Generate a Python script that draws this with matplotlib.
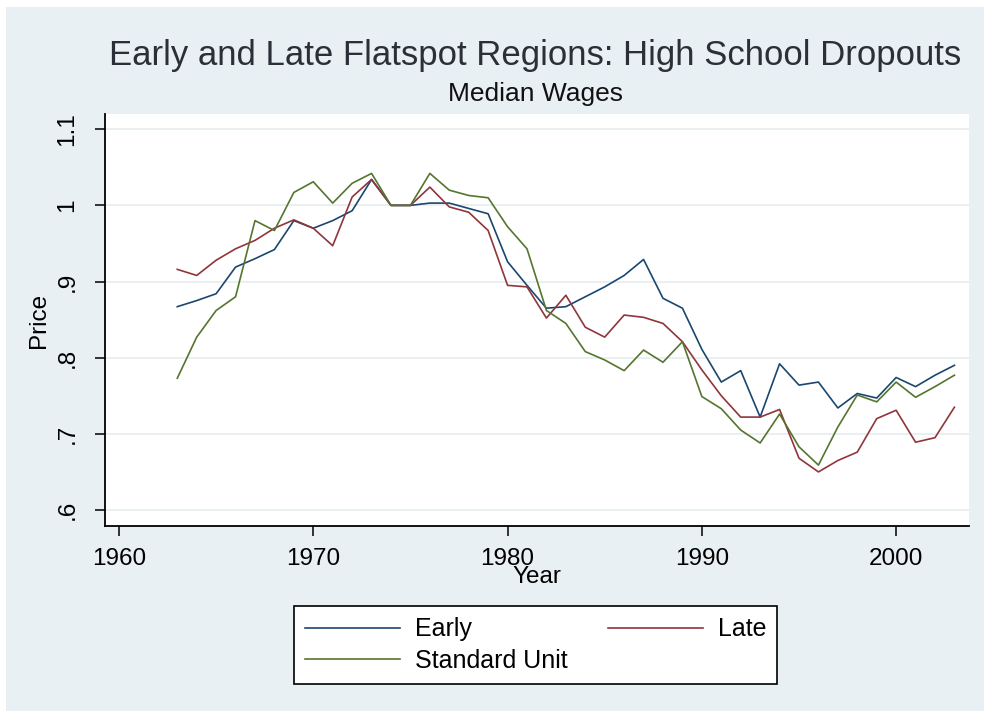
import matplotlib
matplotlib.use("Agg")
import matplotlib.pyplot as plt
from matplotlib.patches import Rectangle

plt.rcParams['font.family'] = ['Liberation Sans', 'DejaVu Sans']

years = list(range(1963, 2004))
early = [0.867, 0.875, 0.884, 0.919, 0.930, 0.942, 0.980, 0.970, 0.980, 0.993,
         1.034, 1.000, 1.000, 1.003, 1.003, 0.996, 0.989, 0.926, 0.895, 0.865,
         0.867, 0.880, 0.893, 0.908, 0.929, 0.878, 0.865, 0.811, 0.768, 0.783,
         0.722, 0.792, 0.764, 0.768, 0.734, 0.753, 0.747, 0.774, 0.762, 0.777,
         0.790]
late = [0.916, 0.908, 0.928, 0.943, 0.954, 0.970, 0.981, 0.970, 0.947, 1.011,
        1.034, 1.000, 1.000, 1.024, 0.998, 0.991, 0.967, 0.895, 0.893, 0.852,
        0.882, 0.840, 0.827, 0.856, 0.853, 0.845, 0.821, 0.784, 0.750, 0.722,
        0.722, 0.732, 0.668, 0.650, 0.665, 0.676, 0.720, 0.731, 0.689, 0.695,
        0.735]
standard = [0.773, 0.827, 0.862, 0.880, 0.980, 0.967, 1.017, 1.031, 1.003, 1.029,
            1.042, 1.000, 1.000, 1.042, 1.020, 1.013, 1.010, 0.972, 0.943, 0.862,
            0.845, 0.808, 0.797, 0.783, 0.810, 0.794, 0.821, 0.749, 0.733, 0.705,
            0.688, 0.726, 0.683, 0.659, 0.709, 0.751, 0.742, 0.768, 0.748, 0.762,
            0.777]

x_ticks = [1960, 1970, 1980, 1990, 2000]
y_ticks = [0.6, 0.7, 0.8, 0.9, 1.0, 1.1]
y_ticklabels = ['.6', '.7', '.8', '.9', '1', '1.1']

bg = '#E8F0F3'
fig = plt.figure(figsize=(9.84, 7.11), dpi=100, facecolor='white')
fig.patches.append(Rectangle((6/984, -0.02), 1.1, 1.02 - 7/711, transform=fig.transFigure,
                             facecolor=bg, edgecolor='none', zorder=-10))

ax = fig.add_axes([105/984, 1 - 526/711, 864/984, 412/711])
ax.set_facecolor('white')

l1, = ax.plot(years, early, color='#1A476F', lw=1.2, label='Early')
l2, = ax.plot(years, late, color='#90353B', lw=1.2, label='Late')
l3, = ax.plot(years, standard, color='#55752F', lw=1.2, label='Standard Unit')

ax.set_xlim(1959.28, 2003.75)
ax.set_ylim(0.579, 1.12)
ax.set_xticks(x_ticks)
ax.set_yticks(y_ticks)
ax.set_yticklabels(y_ticklabels, rotation=90, va='center')
ax.grid(axis='y', color='#E6EDF0', lw=1.2)
ax.set_axisbelow(True)
for s in ['top', 'right']:
    ax.spines[s].set_visible(False)
for s in ['left', 'bottom']:
    ax.spines[s].set_linewidth(1.3)
ax.tick_params(axis='both', length=7, width=1.1, labelsize=17.5)
ax.tick_params(axis='x', pad=9)
ax.tick_params(axis='y', pad=12)

ax.set_xlabel('Year', fontsize=17.5)
ax.xaxis.set_label_coords(0.5, -0.097)
ax.set_ylabel('Price', fontsize=17.5)
ax.yaxis.set_label_coords(-0.064, 0.5)

fig.text(535/984, 1 - 55/711, 'Early and Late Flatspot Regions: High School Dropouts',
         ha='center', va='center', fontsize=25, color='#2a2f38')
fig.text(535/984, 1 - 94/711, 'Median Wages', ha='center', va='center',
         fontsize=19, color='#111111')

# row-wise order: Early, Late / Standard Unit
leg = fig.legend([l1, l3, l2], ['Early', 'Standard Unit', 'Late'],
                 loc='upper center', bbox_to_anchor=(535.5/984, 1 - 606/711), ncol=2,
                 fontsize=18, frameon=True, fancybox=False, framealpha=1,
                 edgecolor='black', handlelength=3.8, handletextpad=0.6,
                 columnspacing=1.6, labelspacing=0.3, borderpad=0.45,
                 borderaxespad=0)
leg.get_frame().set_linewidth(1.2)

fig.savefig('out.png', dpi=100, facecolor=fig.get_facecolor())
